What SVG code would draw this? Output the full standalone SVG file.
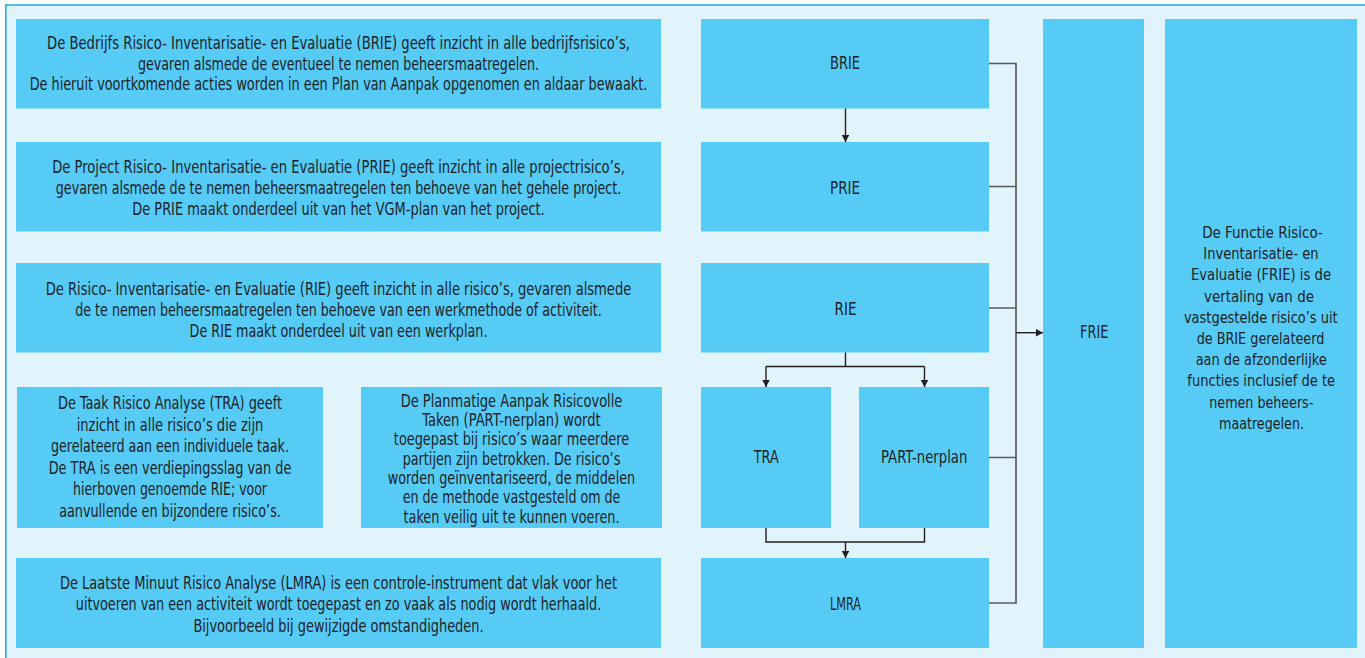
<svg xmlns="http://www.w3.org/2000/svg" width="1365" height="658" viewBox="0 0 1365 658">
<defs>
<style>
.bg{fill:#E1F3FB}
.bx{fill:#56CBF5}
.t{font-family:"Liberation Sans Narrow","DejaVu Sans Condensed","Liberation Sans",sans-serif;font-size:17.5px;fill:#1F2326;text-anchor:middle}
.tf{font-family:"Liberation Sans Narrow","DejaVu Sans Condensed","Liberation Sans",sans-serif;font-size:15.5px;fill:#1F2326;text-anchor:middle}
.lb{font-family:"Liberation Sans Narrow","DejaVu Sans Condensed","Liberation Sans",sans-serif;font-size:18.5px;fill:#1F2326;text-anchor:middle}
.dk{fill:none;stroke:#231F20;stroke-width:1.4}
.gr{fill:none;stroke:#5A5B5D;stroke-width:1.7}
</style>
<marker id="ah" markerUnits="userSpaceOnUse" markerWidth="8" markerHeight="8" refX="7" refY="3.75" orient="auto">
<path d="M0,0 L7,3.75 L0,7.5 Z" fill="#231F20"/>
</marker>
</defs>
<rect x="0" y="0" width="1365" height="658" fill="#FFFFFF"/>
<rect class="bg" x="5" y="4" width="1360" height="654"/>
<path d="M5,5 H1365 M5.8,4 V658" stroke="#29ABE2" stroke-width="1.6" fill="none"/>

<g id="text-brie">
<rect class="bx" x="16" y="19" width="645" height="89.5"/>
<text class="t" lengthAdjust="spacingAndGlyphs" x="338.5" y="48.7" textLength="583">De Bedrijfs Risico- Inventarisatie- en Evaluatie (BRIE) geeft inzicht in alle bedrijfsrisico’s,</text>
<text class="t" lengthAdjust="spacingAndGlyphs" x="338.5" y="69.5" textLength="401">gevaren alsmede de eventueel te nemen beheersmaatregelen.</text>
<text class="t" lengthAdjust="spacingAndGlyphs" x="338.5" y="90.3" textLength="617.7">De hieruit voortkomende acties worden in een Plan van Aanpak opgenomen en aldaar bewaakt.</text>
</g>

<g id="text-prie">
<rect class="bx" x="16" y="142" width="645" height="89.5"/>
<text class="t" lengthAdjust="spacingAndGlyphs" x="338.5" y="172.7" textLength="572.7">De Project Risico- Inventarisatie- en Evaluatie (PRIE) geeft inzicht in alle projectrisico’s,</text>
<text class="t" lengthAdjust="spacingAndGlyphs" x="338.5" y="194" textLength="565.4">gevaren alsmede de te nemen beheersmaatregelen ten behoeve van het gehele project.</text>
<text class="t" lengthAdjust="spacingAndGlyphs" x="338.5" y="215" textLength="412.4">De PRIE maakt onderdeel uit van het VGM-plan van het project.</text>
</g>

<g id="text-rie">
<rect class="bx" x="16" y="263" width="645" height="89.5"/>
<text class="t" lengthAdjust="spacingAndGlyphs" x="338.5" y="295" textLength="585.5">De Risico- Inventarisatie- en Evaluatie (RIE) geeft inzicht in alle risico’s, gevaren alsmede</text>
<text class="t" lengthAdjust="spacingAndGlyphs" x="338.5" y="316" textLength="526.5">de te nemen beheersmaatregelen ten behoeve van een werkmethode of activiteit.</text>
<text class="t" lengthAdjust="spacingAndGlyphs" x="338.5" y="337" textLength="297.9">De RIE maakt onderdeel uit van een werkplan.</text>
</g>

<g id="text-tra">
<rect class="bx" x="17" y="387" width="306" height="141"/>
<text class="t" lengthAdjust="spacingAndGlyphs" x="170" y="409.3" textLength="224">De Taak Risico Analyse (TRA) geeft</text>
<text class="t" lengthAdjust="spacingAndGlyphs" x="170" y="430.8" textLength="186.7">inzicht in alle risico’s die zijn</text>
<text class="t" lengthAdjust="spacingAndGlyphs" x="170" y="452.3" textLength="238">gerelateerd aan een individuele taak.</text>
<text class="t" lengthAdjust="spacingAndGlyphs" x="170" y="473.8" textLength="242.7">De TRA is een verdiepingsslag van de</text>
<text class="t" lengthAdjust="spacingAndGlyphs" x="170" y="495.3" textLength="194">hierboven genoemde RIE; voor</text>
<text class="t" lengthAdjust="spacingAndGlyphs" x="170" y="516.8" textLength="221.7">aanvullende en bijzondere risico’s.</text>
</g>

<g id="text-part">
<rect class="bx" x="361" y="387" width="301" height="141"/>
<text class="t" lengthAdjust="spacingAndGlyphs" x="511.5" y="406.5" textLength="221.7">De Planmatige Aanpak Risicovolle</text>
<text class="t" lengthAdjust="spacingAndGlyphs" x="511.5" y="425.8" textLength="178.3">Taken (PART-nerplan) wordt</text>
<text class="t" lengthAdjust="spacingAndGlyphs" x="511.5" y="445.2" textLength="235.3">toegepast bij risico’s waar meerdere</text>
<text class="t" lengthAdjust="spacingAndGlyphs" x="511.5" y="464.5" textLength="217.7">partijen zijn betrokken. De risico’s</text>
<text class="t" lengthAdjust="spacingAndGlyphs" x="511.5" y="483.8" textLength="247.3">worden geïnventariseerd, de middelen</text>
<text class="t" lengthAdjust="spacingAndGlyphs" x="511.5" y="503.2" textLength="217.7">en de methode vastgesteld om de</text>
<text class="t" lengthAdjust="spacingAndGlyphs" x="511.5" y="522.5" textLength="216">taken veilig uit te kunnen voeren.</text>
</g>

<g id="text-lmra">
<rect class="bx" x="16" y="558" width="645" height="90"/>
<text class="t" lengthAdjust="spacingAndGlyphs" x="338.5" y="588.7" textLength="557.2">De Laatste Minuut Risico Analyse (LMRA) is een controle-instrument dat vlak voor het</text>
<text class="t" lengthAdjust="spacingAndGlyphs" x="338.5" y="610.3" textLength="525.4">uitvoeren van een activiteit wordt toegepast en zo vaak als nodig wordt herhaald.</text>
<text class="t" lengthAdjust="spacingAndGlyphs" x="338.5" y="632" textLength="290.2">Bijvoorbeeld bij gewijzigde omstandigheden.</text>
</g>

<g id="node-brie">
<rect class="bx" x="701" y="19" width="288" height="89.5"/>
<text class="lb" lengthAdjust="spacingAndGlyphs" x="845" y="69.3" textLength="30">BRIE</text>
</g>
<g id="node-prie">
<rect class="bx" x="701" y="142" width="288" height="89.5"/>
<text class="lb" lengthAdjust="spacingAndGlyphs" x="845" y="194" textLength="30">PRIE</text>
</g>
<g id="node-rie">
<rect class="bx" x="701" y="263" width="288" height="89.5"/>
<text class="lb" lengthAdjust="spacingAndGlyphs" x="845.5" y="314.5" textLength="22">RIE</text>
</g>
<g id="node-tra">
<rect class="bx" x="701" y="387" width="130" height="141"/>
<text class="lb" lengthAdjust="spacingAndGlyphs" x="766.2" y="462.7" textLength="25">TRA</text>
</g>
<g id="node-part">
<rect class="bx" x="859" y="387" width="130" height="141"/>
<text class="lb" lengthAdjust="spacingAndGlyphs" x="924.2" y="462.7" textLength="86.3">PART-nerplan</text>
</g>
<g id="node-lmra">
<rect class="bx" x="701" y="558" width="288" height="90"/>
<text class="lb" lengthAdjust="spacingAndGlyphs" x="845.5" y="609.5" textLength="31">LMRA</text>
</g>
<g id="node-frie">
<rect class="bx" x="1043" y="19" width="101" height="629"/>
<text class="lb" lengthAdjust="spacingAndGlyphs" x="1094.2" y="337.8" textLength="28.3">FRIE</text>
</g>

<g id="text-frie">
<rect class="bx" x="1165" y="19" width="192" height="629"/>
<text class="tf" lengthAdjust="spacingAndGlyphs" x="1262.5" y="238" textLength="120.7">De Functie Risico-</text>
<text class="tf" lengthAdjust="spacingAndGlyphs" x="1261" y="259.2" textLength="115.3">Inventarisatie- en</text>
<text class="tf" lengthAdjust="spacingAndGlyphs" x="1261" y="280.4" textLength="140">Evaluatie (FRIE) is de</text>
<text class="tf" lengthAdjust="spacingAndGlyphs" x="1259" y="301.6" textLength="110">vertaling van de</text>
<text class="tf" lengthAdjust="spacingAndGlyphs" x="1260.8" y="322.8" textLength="153.7">vastgestelde risico’s uit</text>
<text class="tf" lengthAdjust="spacingAndGlyphs" x="1260.5" y="344" textLength="127.7">de BRIE gerelateerd</text>
<text class="tf" lengthAdjust="spacingAndGlyphs" x="1261.2" y="365.2" textLength="131">aan de afzonderlijke</text>
<text class="tf" lengthAdjust="spacingAndGlyphs" x="1261.2" y="386.4" textLength="147.7">functies inclusief de te</text>
<text class="tf" lengthAdjust="spacingAndGlyphs" x="1261.3" y="407.6" textLength="104">nemen beheers-</text>
<text class="tf" lengthAdjust="spacingAndGlyphs" x="1261.5" y="428.8" textLength="85">maatregelen.</text>
</g>

<g id="connectors">
<path class="gr" d="M989,63.5 H1016 M989,186.5 H1016 M989,308 H1016 M989,457.5 H1016 M989,603 H1016 M1016,62.7 V603.8"/>
<path class="dk" d="M1016,332.7 H1043" marker-end="url(#ah)"/>
<path class="dk" d="M845.5,108.5 V142" marker-end="url(#ah)"/>
<path class="dk" d="M845.5,352.5 V366.5 M766,366.5 H924.5"/>
<path class="dk" d="M766,366.5 V387" marker-end="url(#ah)"/>
<path class="dk" d="M924.5,366.5 V387" marker-end="url(#ah)"/>
<path class="dk" d="M766,528 V542 H924.5 V528"/>
<path class="dk" d="M845.5,542 V558" marker-end="url(#ah)"/>
</g>
</svg>
